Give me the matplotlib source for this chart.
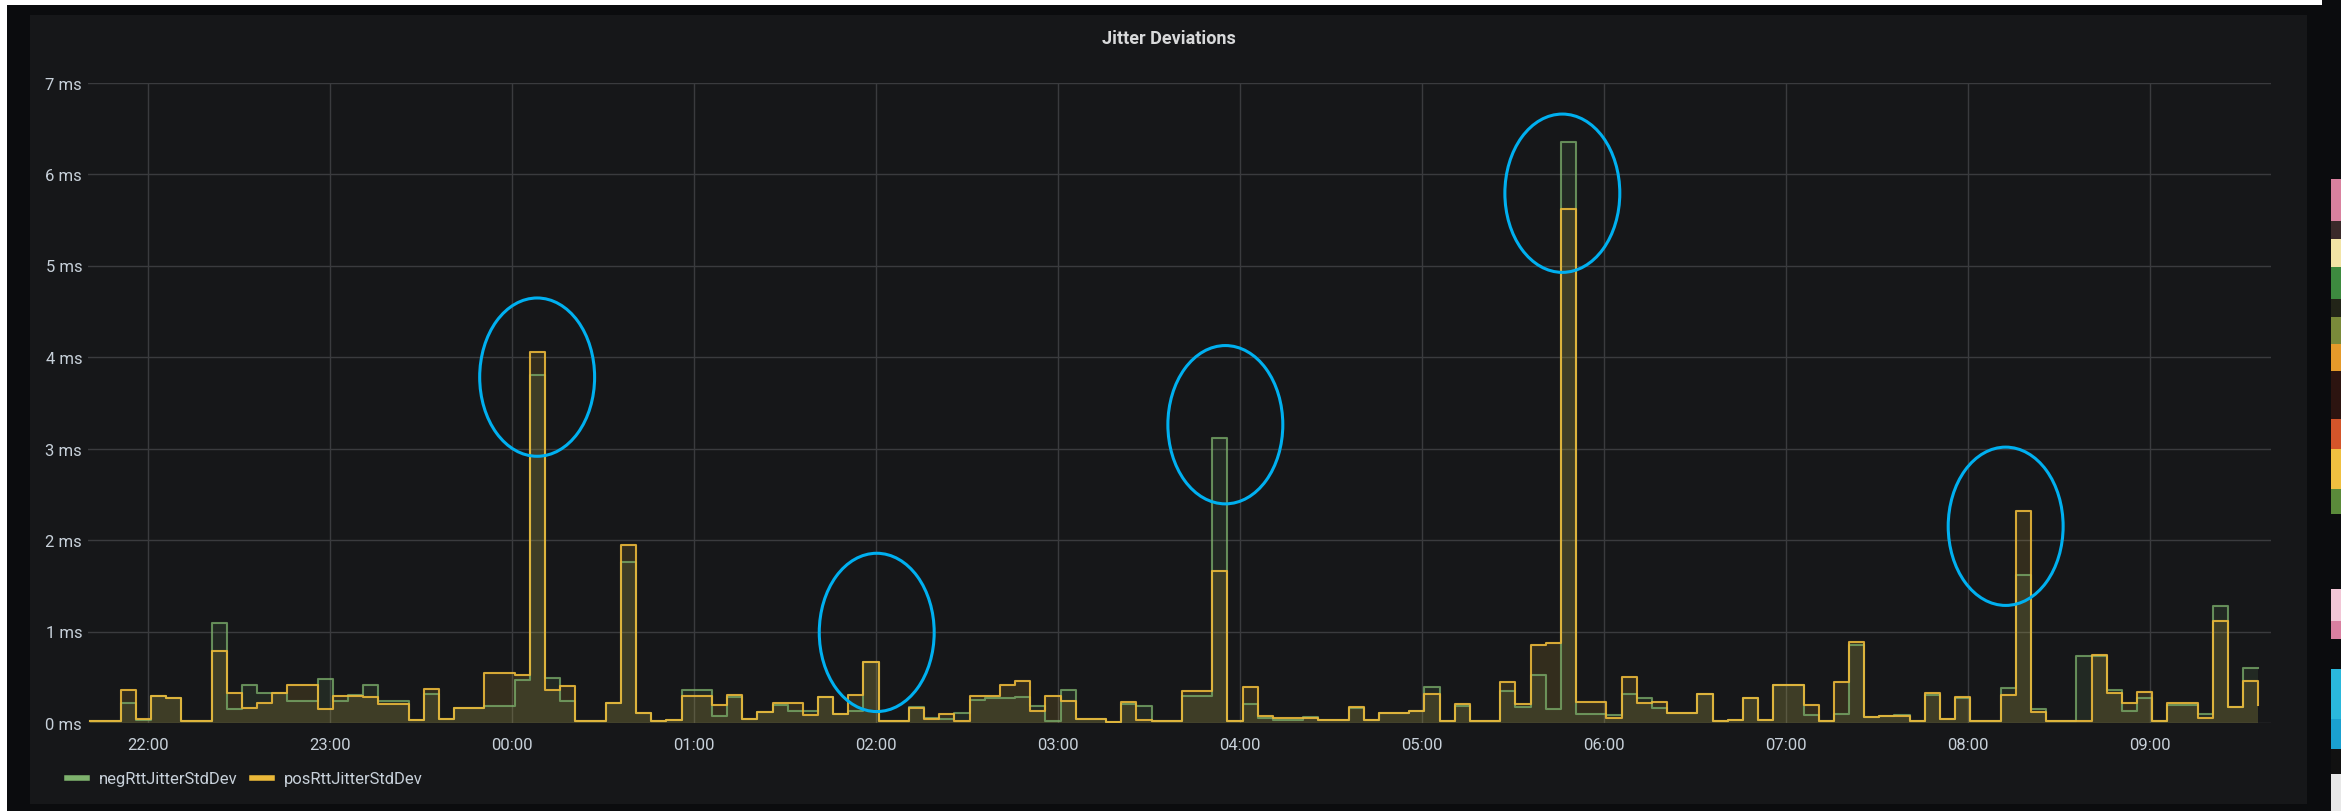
import matplotlib
matplotlib.use("Agg")
import matplotlib.pyplot as plt
import matplotlib.dates as mdates
from matplotlib.patches import Rectangle, Ellipse
from matplotlib.lines import Line2D
import pandas as pd

plt.rcParams['font.family'] = ['Roboto', 'DejaVu Sans']

# jitter values in ms, one per 5 minute step
pos_jitter = [0.02, 0.02, 0.36, 0.04, 0.30, 0.27, 0.02, 0.02, 0.79, 0.33,
              0.16, 0.22, 0.33, 0.41, 0.41, 0.15, 0.29, 0.30, 0.28, 0.21,
              0.21, 0.03, 0.37, 0.04, 0.16, 0.16, 0.55, 0.55, 0.52, 4.06,
              0.36, 0.40, 0.02, 0.02, 0.22, 1.94, 0.11, 0.02, 0.03, 0.29,
              0.29, 0.20, 0.31, 0.04, 0.12, 0.22, 0.22, 0.09, 0.28, 0.10,
              0.31, 0.67, 0.02, 0.02, 0.16, 0.04, 0.10, 0.02, 0.30, 0.30,
              0.41, 0.46, 0.13, 0.29, 0.24, 0.04, 0.04, 0.01, 0.23, 0.03,
              0.02, 0.02, 0.35, 0.35, 1.66, 0.02, 0.39, 0.08, 0.06, 0.05,
              0.05, 0.03, 0.03, 0.18, 0.03, 0.11, 0.11, 0.13, 0.32, 0.02,
              0.21, 0.02, 0.02, 0.45, 0.21, 0.85, 0.87, 5.62, 0.23, 0.23,
              0.05, 0.50, 0.22, 0.23, 0.11, 0.11, 0.32, 0.02, 0.03, 0.27,
              0.03, 0.41, 0.41, 0.20, 0.02, 0.45, 0.88, 0.07, 0.08, 0.08,
              0.02, 0.33, 0.04, 0.28, 0.02, 0.02, 0.31, 2.32, 0.12, 0.02,
              0.02, 0.02, 0.74, 0.33, 0.22, 0.34, 0.02, 0.22, 0.22, 0.05,
              1.12, 0.17, 0.46, 0.20]
neg_jitter = [0.02, 0.02, 0.22, 0.03, 0.29, 0.27, 0.02, 0.02, 1.09, 0.15,
              0.42, 0.33, 0.33, 0.24, 0.24, 0.48, 0.24, 0.31, 0.41, 0.24,
              0.24, 0.03, 0.32, 0.04, 0.16, 0.16, 0.19, 0.19, 0.47, 3.80,
              0.49, 0.24, 0.02, 0.02, 0.22, 1.76, 0.11, 0.02, 0.03, 0.36,
              0.36, 0.08, 0.28, 0.04, 0.12, 0.20, 0.13, 0.13, 0.28, 0.10,
              0.13, 0.67, 0.02, 0.02, 0.17, 0.05, 0.04, 0.11, 0.25, 0.27,
              0.27, 0.28, 0.19, 0.02, 0.36, 0.04, 0.04, 0.01, 0.21, 0.19,
              0.02, 0.02, 0.30, 0.30, 3.11, 0.02, 0.21, 0.06, 0.03, 0.03,
              0.07, 0.03, 0.03, 0.16, 0.03, 0.11, 0.11, 0.13, 0.39, 0.02,
              0.19, 0.02, 0.02, 0.35, 0.18, 0.53, 0.15, 6.35, 0.10, 0.10,
              0.09, 0.32, 0.27, 0.16, 0.11, 0.11, 0.32, 0.02, 0.03, 0.27,
              0.03, 0.41, 0.41, 0.09, 0.02, 0.10, 0.85, 0.07, 0.08, 0.09,
              0.02, 0.31, 0.04, 0.27, 0.02, 0.02, 0.38, 1.62, 0.15, 0.02,
              0.02, 0.73, 0.73, 0.36, 0.13, 0.27, 0.02, 0.20, 0.20, 0.10,
              1.28, 0.18, 0.60, 0.60]
times = pd.date_range('2021-01-01 21:40:50', periods=len(pos_jitter), freq='5min')

y_ticks = [0, 1, 2, 3, 4, 5, 6, 7]
y_labels = [f"{v} ms" for v in y_ticks]

# blue hand-drawn circles: centre time, centre ms
circle_times = ['2021-01-02 00:08:13', '2021-01-02 02:00:12', '2021-01-02 03:55:10',
                '2021-01-02 05:46:18', '2021-01-02 08:12:30']
circle_ms = [3.78, 0.99, 3.26, 5.79, 2.15]

W, H = 2341, 812
fig = plt.figure(figsize=(W / 100, H / 100), dpi=100)
fig.patch.set_facecolor('#0b0c0e')

def px_rect(x0, y0, x1, y1, color):
    fig.add_artist(Rectangle((x0 / W, 1 - y1 / H), (x1 - x0) / W, (y1 - y0) / H,
                             transform=fig.transFigure, color=color, lw=0, zorder=-5))

# screenshot border bits
px_rect(0, 0, 2322, 6, 'white')
px_rect(0, 0, 7, 812, 'white')
px_rect(30, 16, 2307, 805, '#161719')
strip = [(180, 222, '#d9819f'), (222, 240, '#3a2a2a'), (240, 268, '#f2e4a6'),
         (268, 300, '#3d8a3f'), (300, 318, '#222418'), (318, 345, '#7a8a3a'),
         (345, 372, '#e59a2a'), (372, 420, '#2c1410'), (420, 450, '#d4552a'),
         (450, 490, '#f0c040'), (490, 515, '#5a8a3a'), (515, 590, '#0b0c0e'),
         (590, 622, '#f2c6d6'), (622, 640, '#d97fa0'), (640, 670, '#0b0c0e'),
         (670, 720, '#2ab8dc'), (720, 750, '#1aa0d0'), (750, 775, '#111111'),
         (775, 812, '#e8e8e8')]
for y0, y1, c in strip:
    px_rect(2331, y0, 2341, y1, c)

ax = fig.add_axes([87.7 / W, 1 - 724 / H, (2271 - 87.7) / W, (724 - 83.5) / H])
ax.set_facecolor('#161719')

green = '#7EB26D'
yellow = '#EAB839'
ax.fill_between(times, neg_jitter, step='post', color=green, alpha=0.12, lw=0)
ax.step(times, neg_jitter, where='post', color=green, lw=1.5, alpha=0.75)
ax.fill_between(times, pos_jitter, step='post', color=yellow, alpha=0.14, lw=0)
ax.step(times, pos_jitter, where='post', color=yellow, lw=1.5, alpha=0.9)

ax.set_xlim(pd.Timestamp('2021-01-01 21:40:00'), pd.Timestamp('2021-01-02 09:40:00'))
ax.set_ylim(0, 7)
ax.set_yticks(y_ticks)
ax.set_yticklabels(y_labels)
ax.xaxis.set_major_locator(mdates.HourLocator())
ax.xaxis.set_major_formatter(mdates.DateFormatter('%H:%M'))
ax.tick_params(length=0, labelsize=12, colors='#c7d0d9')
ax.tick_params(axis='x', pad=10)
ax.tick_params(axis='y', pad=4)
ax.grid(True, color='#3a3b3e', lw=1)
ax.set_axisbelow(True)
for s in ax.spines.values():
    s.set_visible(False)

day = 1 / 1440
for t, m in zip(circle_times, circle_ms):
    ax.add_patch(Ellipse((mdates.date2num(pd.Timestamp(t)), m), 37.9 * day, 1.73,
                         fill=False, edgecolor='#00B0F0', lw=2.2, zorder=5, clip_on=False))

fig.text(1168.5 / W, 1 - 39 / H, 'Jitter Deviations', ha='center', va='center',
         fontsize=13, fontweight='bold', color='#d8d9da')

handles = [Line2D([], [], color=green, lw=4), Line2D([], [], color=yellow, lw=4)]
fig.legend(handles, ['negRttJitterStdDev', 'posRttJitterStdDev'], loc='center left',
           bbox_to_anchor=(52 / W, 1 - 780 / H), ncol=2, frameon=False, fontsize=12,
           labelcolor='#c7d0d9', handlelength=1.2, handletextpad=0.7, columnspacing=0.9)

fig.savefig('out.png', dpi=100, facecolor=fig.get_facecolor())
